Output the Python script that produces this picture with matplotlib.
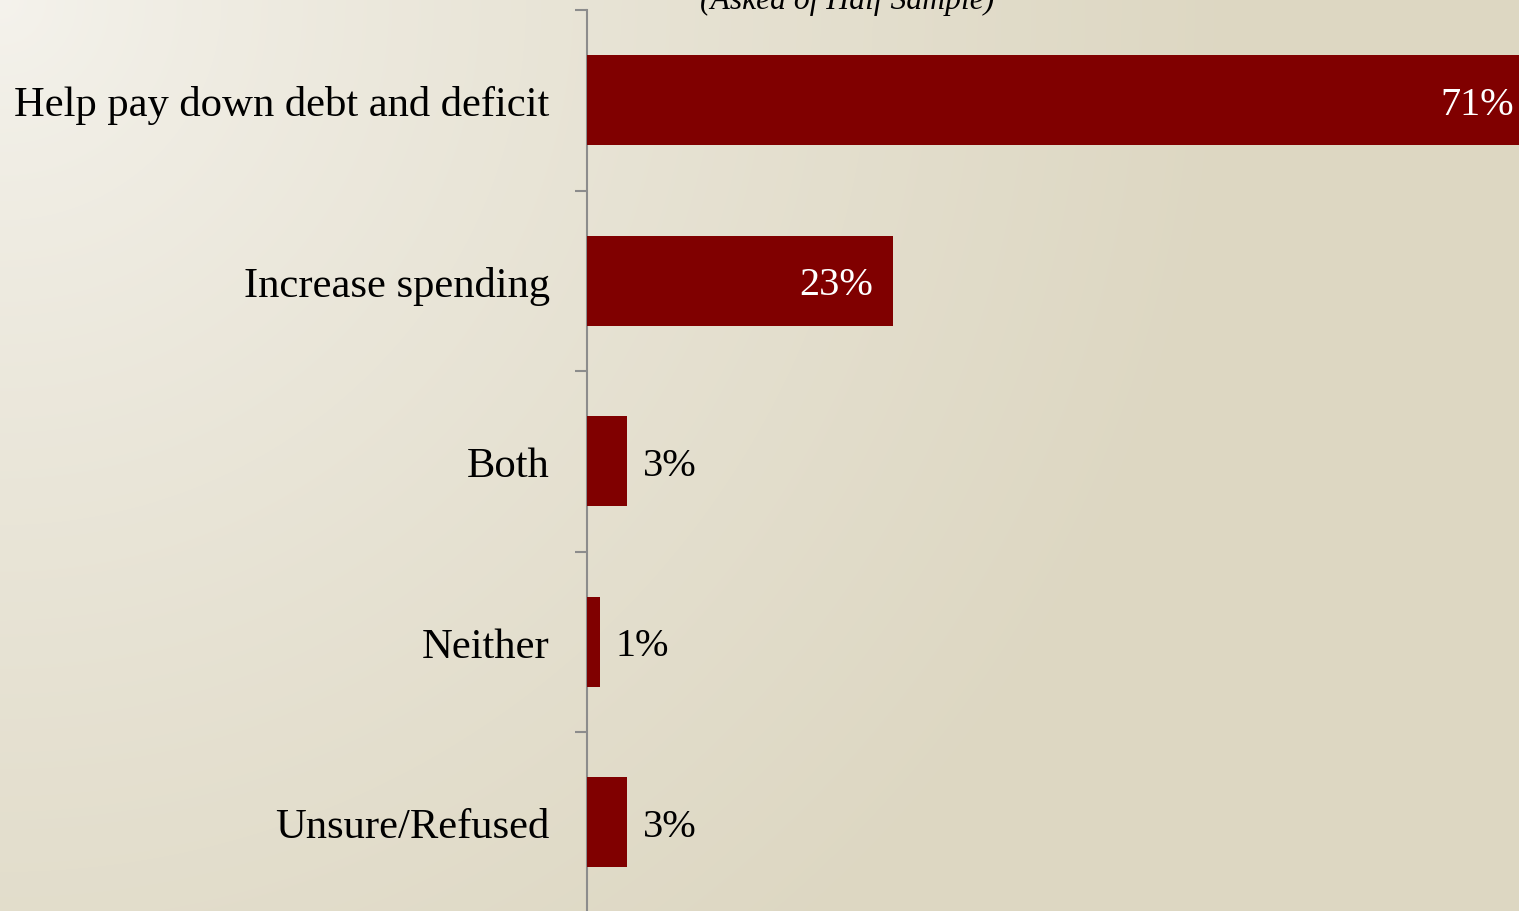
import numpy as np
import matplotlib.pyplot as plt

categories = ["Help pay down debt and deficit", "Increase spending", "Both",
              "Neither", "Unsure/Refused"]
values = [71, 23, 3, 1, 3]
value_labels = ["71%", "23%", "3%", "1%", "3%"]
subtitle = "(Asked of Half Sample)"

W, H = 1519, 912
fig = plt.figure(figsize=(W / 100, H / 100), dpi=100)

# background: soft radial gradient from the top-left corner
bg = fig.add_axes([0, 0, 1, 1], zorder=-10)
yy, xx = np.mgrid[0:H, 0:W]
d = np.sqrt(xx ** 2 + yy ** 2)
t = np.clip(d / 1250.0, 0, 1) ** 0.8
c0 = np.array([245, 243, 237]) / 255
c1 = np.array([221, 215, 194]) / 255
img = c0[None, None, :] * (1 - t[..., None]) + c1[None, None, :] * t[..., None]
bg.imshow(img, aspect="auto", extent=[0, 1, 0, 1])
bg.axis("off")

left = 586.5 / W
top_px, bot_px = 11, 913.5
ax = fig.add_axes([left, (H - bot_px) / H, 1 - left, (bot_px - top_px) / H])
ax.patch.set_alpha(0)

pos = np.arange(len(categories))
ax.barh(pos, values, height=0.5, color="#800000", zorder=3)

ax.set_ylim(len(categories) - 0.5, -0.5)
ax.set_xlim(0, (W - 586.5) / 13.34)

for s in ["top", "right", "bottom"]:
    ax.spines[s].set_visible(False)
ax.spines["left"].set_color("#8c8c8c")
ax.spines["left"].set_linewidth(1.5)
ax.set_xticks([])

font = "Liberation Serif"
ax.set_yticks(pos)
ax.set_yticklabels(categories, fontsize=30.7, fontfamily=font)
ax.tick_params(axis="y", which="major", length=0, pad=26.5)
ax.set_yticks(np.arange(-0.5, len(categories)), minor=True)
ax.tick_params(axis="y", which="minor", length=8.6, width=1.5, color="#8c8c8c")

for p, v, lab in zip(pos, values, value_labels):
    if v >= 10:
        ax.annotate(lab, (v, p), xytext=(-14.4, -3), textcoords="offset points",
                    ha="right", va="center", color="white", fontsize=29,
                    fontfamily=font, zorder=4, annotation_clip=False)
    else:
        ax.annotate(lab, (v, p), xytext=(11.5, -3), textcoords="offset points",
                    ha="left", va="center", color="black", fontsize=29,
                    fontfamily=font, zorder=4, annotation_clip=False)

fig.text(847 / W, 1 - 9 / H, subtitle, ha="center", va="baseline",
         fontsize=22.8, fontstyle="italic", fontfamily=font)

fig.savefig("out.png", dpi=100)
